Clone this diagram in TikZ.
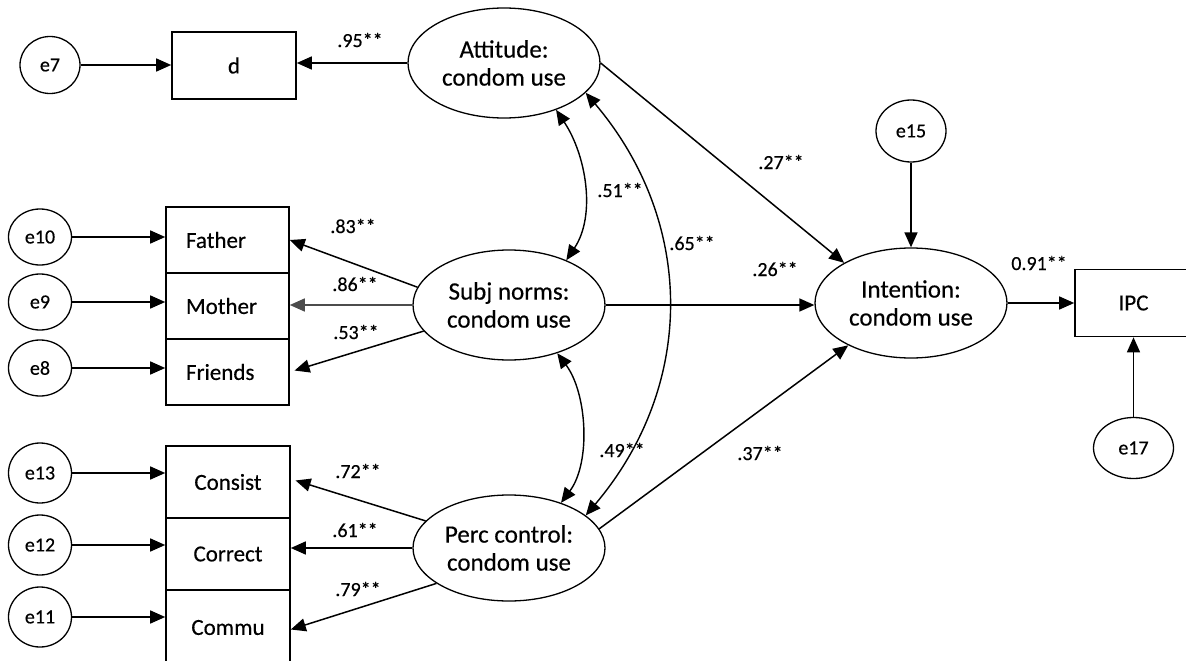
\documentclass[tikz,border=0pt]{standalone}
\usepackage{fontspec}
\setmainfont{Carlito}[FakeBold=0.35]
\usetikzlibrary{arrows.meta,shapes.geometric}

\begin{document}
\begin{tikzpicture}[x=1pt,y=1pt,
  lat/.style={ellipse, draw, line width=1.3pt, minimum width=192pt, minimum height=110pt,
              inner sep=0pt, align=center, font=\fontsize{25}{28}\selectfont},
  err/.style={ellipse, draw, line width=1.3pt, inner sep=0pt, font=\fontsize{20}{24}\selectfont},
  obs/.style={rectangle, draw, line width=1.6pt, inner sep=0pt, font=\fontsize{23}{28}\selectfont},
  leftbox/.style={obs, minimum width=123pt, minimum height=66pt, text width=83pt, align=left},
  midbox/.style={obs, minimum width=124pt, minimum height=72pt},
  coef/.style={inner sep=0pt, font=\fontsize{20}{24}\selectfont},
  reg/.style={line width=1.5pt, -{Triangle[length=15pt,width=13pt]}},
  cov/.style={line width=1.4pt, {Triangle[length=15pt,width=13pt]}-{Triangle[length=15pt,width=13pt]}},
]
\fill[white] (0,0) rectangle (1186,-661);
\clip (0,0) rectangle (1186,-661);

% latent variables
\node[lat] (att) at (504,-63) {Attitude:\\condom use};
\node[lat] (sub) at (509,-305) {Subj norms:\\condom use};
\node[lat, minimum height=106pt] (per) at (509,-548) {Perc control:\\condom use};
\node[lat] (int) at (911,-303) {Intention:\\condom use};

% observed indicators
\node[obs, minimum width=124pt, minimum height=67pt] (d) at (234,-65.5) {d};
\node[leftbox] (fa) at (227.5,-240) {Father};
\node[leftbox] (mo) at (227.5,-306) {Mother};
\node[leftbox] (fr) at (227.5,-372) {Friends};
\node[midbox] (co) at (228,-482) {Consist};
\node[midbox] (cr) at (228,-554) {Correct};
\node[midbox, minimum height=75pt] (cm) at (228,-627.5) {Commu};
\node[obs, minimum width=117pt, minimum height=67pt] (ipc) at (1133.5,-303) {IPC};

% error terms
\node[err, minimum width=60pt, minimum height=57pt] (e7) at (50,-65) {e7};
\node[err, minimum width=63pt, minimum height=56pt] (e10) at (40,-237) {e10};
\node[err, minimum width=63pt, minimum height=56pt] (e9) at (40,-302) {e9};
\node[err, minimum width=63pt, minimum height=56pt] (e8) at (40,-368) {e8};
\node[err, minimum width=63pt, minimum height=60pt] (e13) at (40,-473) {e13};
\node[err, minimum width=63pt, minimum height=60pt] (e12) at (40,-545) {e12};
\node[err, minimum width=63pt, minimum height=60pt] (e11) at (40,-617) {e11};
\node[err, minimum width=70pt, minimum height=62pt] (e15) at (911,-131) {e15};
\node[err, minimum width=80pt, minimum height=61pt] (e17) at (1133.5,-448) {e17};

% error paths
\draw[reg] (e7) -- (e7 -| d.west);
\draw[reg] (e10.east) -- (e10.east -| fa.west);
\draw[reg] (e9.east) -- (e9.east -| mo.west);
\draw[reg] (e8.east) -- (e8.east -| fr.west);
\draw[reg] (e13.east) -- (e13.east -| co.west);
\draw[reg] (e12.east) -- (e12.east -| cr.west);
\draw[reg] (e11.east) -- (e11.east -| cm.west);
\draw[reg] (e15) -- (int);
\draw[reg] (e17) -- (ipc);

% loadings
\draw[reg] (att.west) -- (att.west -| d.east);
\draw[reg] (sub.169) -- (fa.east);
\draw[reg, draw=black!70] (sub.west) -- (sub.west -| mo.east);
\draw[reg, shorten >=5pt] (sub.197) -- (fr.east);
\draw[reg, shorten >=5pt] (per.162) -- ([yshift=3pt]co.east);
\draw[reg] (per.west) -- (per.west -| cr.east);
\draw[reg] (per.206) -- ([yshift=-2pt]cm.east);

% structural paths
\draw[reg] (att.east) -- (int.149);
\draw[reg] (sub.east) -- (sub.east -| int.west);
\draw[reg] (per.12) -- (int.214);
\draw[reg] (int.east) -- (int.east -| ipc.west);

% correlations among the exogenous factors
\draw[cov] (att.318) .. controls +(30,-45) and +(30,45) .. (sub.38);
\draw[cov] (sub.315) .. controls +(30,-40) and +(30,40) .. (per.41);
\draw[cov] (att.340) .. controls +(110,-130) and +(110,130) .. (per.23);

% coefficients
\node[coef] (c95) at (360,-40) {.95**};
\node[coef] (c83) at (353,-226) {.83**};
\node[coef] (c86) at (355,-284) {.86**};
\node[coef] (c53) at (356,-332) {.53**};
\node[coef] (c72) at (358,-471) {.72**};
\node[coef] (c61) at (355,-530) {.61**};
\node[coef] (c79) at (358,-589) {.79**};
\node[coef] (c51) at (620,-190) {.51**};
\node[coef] (c65) at (692,-243) {.65**};
\node[coef] (c49) at (622,-450) {.49**};
\node[coef] (c27) at (781,-162) {.27**};
\node[coef] (c26) at (775,-269) {.26**};
\node[coef] (c37) at (760,-453) {.37**};
\node[coef] (c91) at (1039,-263) {0.91**};
\end{tikzpicture}
\end{document}
